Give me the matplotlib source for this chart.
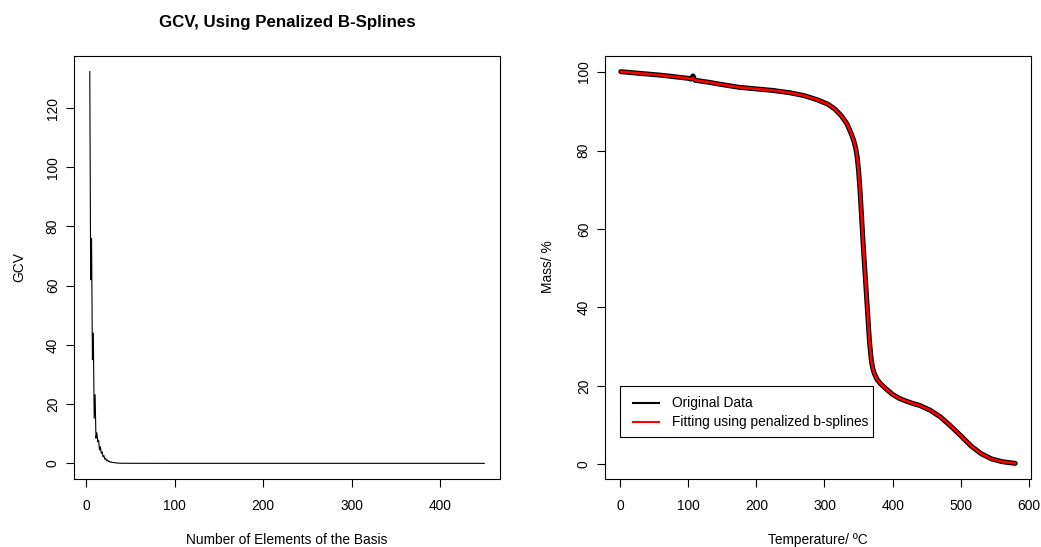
import matplotlib
matplotlib.use("Agg")
import matplotlib.pyplot as plt
from matplotlib.patches import Rectangle
from matplotlib.lines import Line2D

plt.rcParams["font.family"] = ["Liberation Sans", "DejaVu Sans"]

# GCV criterion versus number of basis functions
n_basis = [4, 5, 6, 7, 8, 9, 10, 11, 12, 13, 14, 15, 16, 17, 18, 19, 20,
           21, 22, 23, 24, 25, 26, 27, 28, 29, 30, 32, 34, 36, 38, 40,
           50, 100, 200, 300, 450]
gcv = [132.3, 62.0, 76.0, 35.0, 44.0, 15.2, 23.2, 8.5, 10.3, 7.3, 7.8,
       4.5, 5.6, 3.4, 3.9, 2.2, 2.6, 1.4, 1.7, 0.9, 1.1, 0.6, 0.75, 0.4,
       0.5, 0.28, 0.33, 0.2, 0.14, 0.09, 0.05, 0.03, 0.01, 0.0, 0.0, 0.0, 0.0]

# Thermogravimetric curve: temperature (ºC) and remaining mass (%)
temperature = [1, 20, 40, 60, 80, 100, 104, 107, 110, 130, 150, 175, 200,
               225, 250, 270, 290, 305, 315, 325, 333, 340, 343, 346, 348,
               350, 352, 354, 357, 360, 363, 366, 368, 369, 371, 373, 377,
               382, 390, 400, 410, 420, 430, 440, 455, 470, 485, 500, 515,
               530, 545, 560, 570, 580]
mass_original = [100.1, 99.8, 99.5, 99.2, 98.8, 98.4, 98.2, 99.0, 97.9,
                 97.4, 96.8, 96.1, 95.7, 95.3, 94.7, 94.0, 92.9, 91.8, 90.6,
                 88.8, 86.8, 84.0, 82.5, 80.5, 78.3, 75.0, 70.3, 64.5, 55.5,
                 47.5, 39.5, 31.5, 27.8, 26.2, 24.4, 23.2, 21.7, 20.6, 19.3,
                 17.8, 16.8, 16.1, 15.5, 15.0, 13.8, 12.1, 9.8, 7.3, 4.7, 2.7,
                 1.4, 0.7, 0.45, 0.25]
mass_fit = [100.1, 99.8, 99.5, 99.2, 98.8, 98.4, 98.2, 98.5, 97.9,
            97.4, 96.8, 96.1, 95.7, 95.3, 94.7, 94.0, 92.9, 91.8, 90.6,
            88.8, 86.8, 84.0, 82.5, 80.5, 78.3, 75.0, 70.3, 64.5, 55.5,
            47.5, 39.5, 31.5, 27.8, 26.2, 24.4, 23.2, 21.7, 20.6, 19.3,
            17.8, 16.8, 16.1, 15.5, 15.0, 13.8, 12.1, 9.8, 7.3, 4.7, 2.7,
            1.4, 0.7, 0.45, 0.25]

x_ticks_left = [0, 100, 200, 300, 400]
y_ticks_left = [0, 20, 40, 60, 80, 100, 120]
x_ticks_right = [0, 100, 200, 300, 400, 500, 600]
y_ticks_right = [0, 20, 40, 60, 80, 100]

W, H = 1041, 547
fig = plt.figure(figsize=(W / 100, H / 100), dpi=100)
fs = 9.9


def r_limits(vals):
    lo, hi = min(vals), max(vals)
    pad = 0.04 * (hi - lo)
    return lo - pad, hi + pad


def style(ax, xt, yt):
    ax.set_xticks(xt)
    ax.set_yticks(yt)
    ax.tick_params(direction="out", length=5.6, width=0.8, labelsize=fs,
                   colors="black")
    ax.tick_params(axis="x", pad=8.6)
    ax.tick_params(axis="y", pad=4.6, labelrotation=90)
    for lab in ax.get_yticklabels():
        lab.set_va("center")
    for sp in ax.spines.values():
        sp.set_linewidth(0.8)


# Left panel: GCV
ax1 = fig.add_axes([74 / W, 1 - 479 / H, 426 / W, 423 / H])
ax1.plot(n_basis, gcv, color="black", lw=0.8)
ax1.set_xlim(*r_limits(n_basis))
ax1.set_ylim(*r_limits(gcv))
style(ax1, x_ticks_left, y_ticks_left)
fig.text(287 / W, 1 - 22 / H, "GCV, Using Penalized B-Splines",
         ha="center", va="center", fontsize=12.2, fontweight="bold")
fig.text(287 / W, 1 - 540 / H, "Number of Elements of the Basis",
         ha="center", va="center", fontsize=fs)
fig.text(19 / W, 1 - 267 / H, "GCV", ha="center", va="center",
         rotation=90, fontsize=fs)

# Right panel: original data and penalized B-spline fit
ax2 = fig.add_axes([605 / W, 1 - 479 / H, 426 / W, 423 / H])
ax2.plot(temperature, mass_original, color="black", lw=3.6,
         solid_capstyle="round", solid_joinstyle="round")
ax2.plot(temperature, mass_fit, color="red", lw=1.9,
         solid_capstyle="round", solid_joinstyle="round")
ax2.set_xlim(*r_limits(temperature))
ax2.set_ylim(*r_limits(mass_original))
style(ax2, x_ticks_right, y_ticks_right)
fig.text(818 / W, 1 - 540 / H, "Temperature/ ºC",
         ha="center", va="center", fontsize=fs)
fig.text(548 / W, 1 - 267 / H, "Mass/ %", ha="center", va="center",
         rotation=90, fontsize=fs)

# Legend box drawn in the R style
tr = ax2.transAxes


def ax_x(px):
    return (px - 605) / 426


def ax_y(py):
    return (479 - py) / 423


ax2.add_patch(Rectangle((ax_x(620), ax_y(436.7)), ax_x(873.3) - ax_x(620),
                        ax_y(386) - ax_y(436.7), transform=tr, fill=True,
                        facecolor="white", edgecolor="black", lw=0.8, zorder=5))
legend_rows = [("Original Data", "black", 403.3),
               ("Fitting using penalized b-splines", "red", 421.7)]
for label, col, py in legend_rows:
    ax2.add_line(Line2D([ax_x(633), ax_x(659)], [ax_y(py), ax_y(py)],
                        color=col, lw=1.5, transform=tr, zorder=6))
    ax2.text(ax_x(671.5), ax_y(py), label, transform=tr, ha="left",
             va="center", fontsize=fs, zorder=6)

fig.savefig("out.png", dpi=100)
